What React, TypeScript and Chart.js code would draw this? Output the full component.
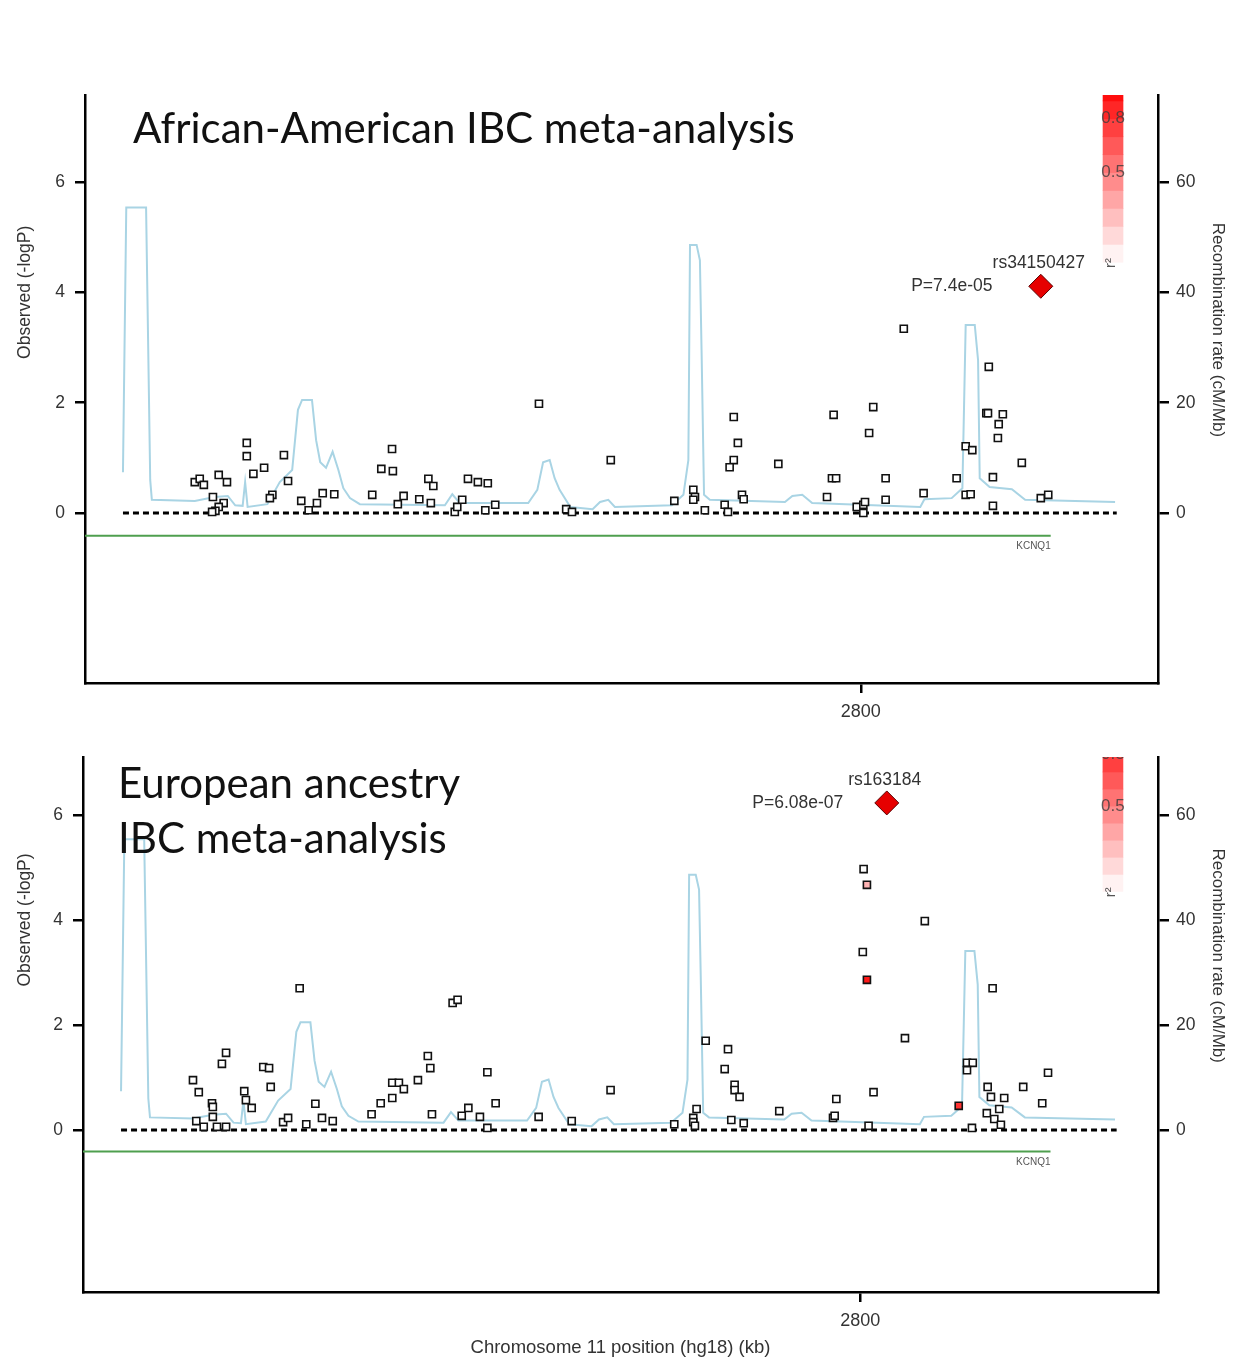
import { useEffect, useRef } from 'react';
import { Chart, registerables } from 'chart.js';
Chart.register(...registerables);

// ---------------- data ----------------
const X_MIN = 2706;
const X_MAX = 2836;
const xTickValues = [2800];
const logPTickValues = [0, 2, 4, 6];
const rateTickValues = [0, 20, 40, 60];

// recombination rate (cM/Mb), shared by both panels
const recPos = [2710.6, 2711.0, 2713.4, 2713.9, 2714.1, 2719.3, 2721.7, 2723.3, 2724.2, 2725.1, 2725.4, 2725.7, 2728.1, 2729.6, 2731.1, 2731.8, 2732.3, 2733.5, 2734.0, 2734.5, 2735.2, 2736.0, 2736.7, 2737.3, 2738.1, 2739.3, 2749.6, 2750.5, 2751.4, 2759.7, 2760.8, 2761.5, 2762.3, 2762.9, 2763.5, 2764.8, 2767.5, 2768.4, 2769.4, 2770.2, 2777.1, 2778.5, 2779.1, 2779.3, 2780.1, 2780.5, 2780.7, 2781.0, 2781.7, 2790.8, 2791.7, 2792.9, 2794.1, 2807.2, 2807.7, 2811.0, 2812.3, 2812.7, 2813.8, 2814.2, 2814.4, 2815.6, 2818.3, 2819.9, 2830.8];
const recRate = [7.4, 55.4, 55.4, 6.0, 2.4, 2.2, 2.9, 3.1, 1.4, 1.3, 5.6, 1.1, 1.6, 5.6, 7.8, 18.7, 20.5, 20.5, 13.2, 9.2, 8.2, 11.1, 7.8, 4.5, 2.7, 1.6, 1.4, 3.4, 1.8, 1.8, 4.2, 9.2, 9.6, 6.3, 4.2, 1.1, 0.7, 2.0, 2.4, 1.1, 1.4, 3.3, 9.6, 48.6, 48.6, 45.8, 29.5, 3.3, 2.4, 2.0, 3.1, 3.3, 1.8, 1.1, 2.5, 2.7, 4.5, 34.1, 34.1, 27.7, 6.3, 4.7, 4.3, 2.4, 2.0];

// African-American IBC meta-analysis SNPs
const aaPos = [2719.3, 2719.9, 2720.4, 2721.5, 2722.2, 2723.2, 2722.8, 2722.2, 2721.8, 2721.4, 2725.6, 2725.6, 2726.4, 2727.7, 2730.1, 2730.6, 2728.7, 2728.4, 2732.2, 2733.1, 2734.1, 2734.8, 2736.2, 2743.2, 2741.9, 2743.3, 2740.8, 2744.6, 2743.9, 2746.5, 2747.9, 2747.6, 2748.2, 2750.8, 2751.1, 2751.7, 2752.4, 2753.6, 2754.8, 2754.5, 2755.7, 2761.0, 2764.3, 2765.0, 2769.7, 2777.4, 2779.7, 2779.9, 2779.7, 2781.1, 2783.5, 2783.9, 2784.6, 2785.1, 2784.6, 2784.1, 2785.6, 2785.8, 2790.0, 2795.9, 2796.5, 2797.0, 2796.7, 2799.5, 2800.3, 2800.5, 2800.3, 2801.0, 2801.5, 2803.0, 2803.0, 2805.2, 2807.6, 2811.6, 2812.7, 2813.5, 2812.7, 2813.3, 2815.2, 2815.4, 2817.2, 2816.7, 2816.6, 2815.5, 2816.0, 2816.0, 2819.5, 2821.8, 2822.7];
const aaLogP = [0.56, 0.62, 0.51, 0.29, 0.69, 0.56, 0.18, 0.11, 0.04, 0.02, 1.27, 1.03, 0.71, 0.82, 1.05, 0.58, 0.33, 0.27, 0.22, 0.05, 0.18, 0.36, 0.34, 1.16, 0.80, 0.76, 0.33, 0.31, 0.16, 0.25, 0.18, 0.62, 0.49, 0.02, 0.11, 0.24, 0.62, 0.56, 0.54, 0.05, 0.15, 1.98, 0.07, 0.02, 0.96, 0.22, 0.42, 0.29, 0.24, 0.05, 0.15, 0.02, 1.74, 1.27, 0.96, 0.83, 0.33, 0.25, 0.89, 0.29, 0.63, 0.63, 1.78, 0.11, 0.15, 0.20, 0.00, 1.45, 1.92, 0.63, 0.24, 3.34, 0.36, 0.63, 1.21, 1.14, 0.33, 0.34, 1.81, 1.81, 1.79, 1.61, 1.36, 2.65, 0.65, 0.13, 0.91, 0.27, 0.33];
const aaLeadName = 'rs34150427';
const aaLeadLabel = 'P=7.4e-05';
const aaLeadPos = 2821.8;
const aaLeadLogP = 4.11;

// European ancestry IBC meta-analysis SNPs
const eaPos = [2732.2, 2750.7, 2751.3, 2723.3, 2722.8, 2719.3, 2720.0, 2721.6, 2721.7, 2721.7, 2719.7, 2720.6, 2722.2, 2723.3, 2725.5, 2725.7, 2726.4, 2727.8, 2728.5, 2728.7, 2730.2, 2730.8, 2733.0, 2734.1, 2734.9, 2736.2, 2740.9, 2742.0, 2743.4, 2743.4, 2744.2, 2744.8, 2746.5, 2747.7, 2748.0, 2748.2, 2751.8, 2752.6, 2754.0, 2754.9, 2754.9, 2755.9, 2761.1, 2765.1, 2769.8, 2777.5, 2779.8, 2780.2, 2779.8, 2780.0, 2781.3, 2784.0, 2783.6, 2784.8, 2784.8, 2785.4, 2784.4, 2785.9, 2790.2, 2800.4, 2800.8, 2807.8, 2800.3, 2800.8, 2816.0, 2805.4, 2812.9, 2813.6, 2812.9, 2801.6, 2797.1, 2796.7, 2796.9, 2801.0, 2811.9, 2815.4, 2815.8, 2817.4, 2819.7, 2822.7, 2822.0, 2816.8, 2815.3, 2816.2, 2817.0, 2813.5];
const eaLogP = [2.70, 2.42, 2.48, 1.47, 1.26, 0.95, 0.72, 0.51, 0.44, 0.25, 0.17, 0.06, 0.06, 0.06, 0.74, 0.57, 0.42, 1.20, 1.18, 0.82, 0.15, 0.23, 0.11, 0.50, 0.23, 0.17, 0.30, 0.51, 0.61, 0.90, 0.90, 0.78, 0.95, 1.41, 1.18, 0.30, 0.27, 0.42, 0.25, 0.04, 1.10, 0.51, 0.25, 0.17, 0.76, 0.11, 0.23, 0.40, 0.15, 0.08, 1.70, 1.54, 1.16, 0.86, 0.76, 0.63, 0.19, 0.13, 0.36, 4.97, 4.67, 3.98, 3.39, 2.86, 2.70, 1.75, 1.28, 1.28, 1.14, 0.72, 0.59, 0.23, 0.27, 0.08, 0.46, 0.82, 0.63, 0.61, 0.82, 1.09, 0.51, 0.40, 0.32, 0.21, 0.10, 0.04];
const eaHighlightIdx = [60, 63, 74];
const eaHighlightR2 = [0.3, 0.9, 0.8];
const eaLeadName = 'rs163184';
const eaLeadLabel = 'P=6.08e-07';
const eaLeadPos = 2803.2;
const eaLeadLogP = 6.23;

// gene track and baseline
const geneName = 'KCNQ1';
const geneStart = 2706;
const geneEnd = 2823;
const geneLogP = -0.41;
const baselineStart = 2710.6;
const baselineEnd = 2831;

// r² legend
const legendPosStart = 2829.3;
const legendPosEnd = 2831.8;
const legendLogPBottom = 4.55;
const legendLogPTop = 7.8;
const legendBands = 10;
const legendLabels = [0.8, 0.5];

const FONT = '"Liberation Sans", Arial, sans-serif';
const TITLE_FONT = 'Lato, "Open Sans", sans-serif';

type Panel = {
  top: number;
  height: number;
  areaTop: number;
  areaBottom: number;
  left: number;
  right: number;
  yMin: number;
  yMax: number;
  title: string[];
  titleX: number;
  titleY: number[];
  pos: number[];
  logP: number[];
  r2Idx: number[];
  r2Val: number[];
  leadName: string;
  leadLabel: string;
  leadPos: number;
  leadLogP: number;
  xTitle: boolean;
};

const W = 1241;

const panels: Panel[] = [
  {
    top: 0, height: 730, areaTop: 95, areaBottom: 683, left: 85, right: 1158,
    yMin: -3.081, yMax: 7.577,
    title: ['African-American IBC meta-analysis'], titleX: 48, titleY: [48],
    pos: aaPos, logP: aaLogP, r2Idx: [], r2Val: [],
    leadName: aaLeadName, leadLabel: aaLeadLabel, leadPos: aaLeadPos, leadLogP: aaLeadLogP,
    xTitle: false,
  },
  {
    top: 730, height: 634, areaTop: 27, areaBottom: 562, left: 83, right: 1158,
    yMin: -3.086, yMax: 7.105,
    title: ['European ancestry', 'IBC meta-analysis'], titleX: 35, titleY: [41, 96],
    pos: eaPos, logP: eaLogP, r2Idx: eaHighlightIdx, r2Val: eaHighlightR2,
    leadName: eaLeadName, leadLabel: eaLeadLabel, leadPos: eaLeadPos, leadLogP: eaLeadLogP,
    xTitle: true,
  },
];

function r2Fill(r2: number) {
  if (r2 <= 0) return '#ffffff';
  const a = Math.min(1, r2);
  const g = Math.round(255 * (1 - a));
  return `rgb(255,${g},${g})`;
}

function overlay(p: Panel) {
  return {
    id: 'overlay',
    afterDraw(chart: any) {
      const { ctx, chartArea: ca, scales } = chart;
      const xs = scales.x;
      const ys = scales.y;
      ctx.save();

      // r² legend
      ctx.save();
      ctx.beginPath();
      ctx.rect(0, ca.top, chart.width, chart.height - ca.top);
      ctx.clip();
      const lx0 = xs.getPixelForValue(legendPosStart);
      const lx1 = xs.getPixelForValue(legendPosEnd);
      const yAt = (r: number) => ys.getPixelForValue(legendLogPBottom + (legendLogPTop - legendLogPBottom) * r);
      for (let i = 0; i < legendBands; i++) {
        const r0 = i / legendBands;
        const r1 = (i + 1) / legendBands;
        const yb = yAt(r0);
        const yt = yAt(r1);
        ctx.fillStyle = r2Fill((r0 + r1) / 2);
        ctx.fillRect(lx0, yt, lx1 - lx0, yb - yt + 0.6);
      }
      ctx.fillStyle = 'rgba(60,60,60,0.8)';
      ctx.font = `17px ${FONT}`;
      ctx.textAlign = 'center';
      ctx.textBaseline = 'middle';
      for (const v of legendLabels) ctx.fillText(String(v), (lx0 + lx1) / 2, yAt(v));
      ctx.restore();
      ctx.save();
      ctx.translate((lx0 + lx1) / 2 - 2, yAt(0) + 1);
      ctx.rotate(-Math.PI / 2);
      ctx.fillStyle = '#555';
      ctx.font = `15px ${FONT}`;
      ctx.textAlign = 'center';
      ctx.textBaseline = 'middle';
      ctx.fillText('r²', 0, 0);
      ctx.restore();

      // panel title
      ctx.fillStyle = '#111';
      ctx.font = `42px ${TITLE_FONT}`;
      ctx.textAlign = 'left';
      ctx.textBaseline = 'alphabetic';
      p.title.forEach((t, i) => ctx.fillText(t, ca.left + p.titleX, ca.top + p.titleY[i]));

      // lead SNP labels
      const lx = xs.getPixelForValue(p.leadPos);
      const ly = ys.getPixelForValue(p.leadLogP);
      ctx.fillStyle = '#333';
      ctx.font = `17.5px ${FONT}`;
      ctx.textAlign = 'center';
      ctx.textBaseline = 'middle';
      ctx.fillText(p.leadName, lx - 2, ly - 23);
      ctx.fillText(p.leadLabel, lx - 89, ly);

      // gene label
      ctx.font = `10px ${FONT}`;
      ctx.fillStyle = '#555';
      ctx.textAlign = 'right';
      ctx.fillText(geneName, xs.getPixelForValue(geneEnd), ys.getPixelForValue(geneLogP) + 11);

      // axis titles
      ctx.fillStyle = '#333';
      ctx.font = `17.5px ${FONT}`;
      ctx.save();
      ctx.translate(25, ys.getPixelForValue(4.0));
      ctx.rotate(-Math.PI / 2);
      ctx.textAlign = 'center';
      ctx.fillText('Observed (-logP)', 0, 0);
      ctx.restore();
      ctx.save();
      ctx.font = `17px ${FONT}`;
      ctx.translate(1218, ys.getPixelForValue(3.32));
      ctx.rotate(Math.PI / 2);
      ctx.textAlign = 'center';
      ctx.fillText('Recombination rate (cM/Mb)', 0, 0);
      ctx.restore();
      if (p.xTitle) {
        ctx.font = `18.5px ${FONT}`;
        ctx.textAlign = 'center';
        ctx.fillText('Chromosome 11 position (hg18) (kb)', (ca.left + ca.right) / 2, ca.bottom + 56);
      }
      ctx.restore();
    },
  };
}

function makeChart(canvas: HTMLCanvasElement, p: Panel) {
  const snpData = p.pos.map((x, i) => ({ x, y: p.logP[i] })).slice(0, Math.min(p.pos.length, p.logP.length));
  const snpFill = snpData.map((_, i) => {
    const k = p.r2Idx.indexOf(i);
    return k >= 0 ? r2Fill(p.r2Val[k]) : '#ffffff';
  });
  const recData = recPos.map((x, i) => ({ x, y: recRate[i] }));
  const tickFont = { family: FONT, size: 17.5 };
  const axisCommon = {
    border: { display: true, color: '#000', width: 2.5 },
  };
  const plainLabel = (v: any) => String(v);
  return new Chart(canvas, {
    type: 'scatter',
    data: {
      datasets: [
        {
          label: 'lead',
          data: [{ x: p.leadPos, y: p.leadLogP }],
          pointStyle: 'rectRot',
          pointRadius: 12,
          backgroundColor: '#e60000',
          borderColor: '#5a0000',
          borderWidth: 1,
          yAxisID: 'y',
          order: 0,
        },
        {
          label: 'snps',
          data: snpData,
          pointStyle: 'rect',
          pointRadius: 5,
          backgroundColor: snpFill,
          borderColor: '#111',
          borderWidth: 1.6,
          yAxisID: 'y',
          order: 1,
        },
        {
          label: 'baseline',
          data: [{ x: baselineStart, y: 0 }, { x: baselineEnd, y: 0 }],
          showLine: true,
          pointRadius: 0,
          borderColor: '#000',
          borderWidth: 3,
          borderDash: [6, 4],
          yAxisID: 'y',
          order: 2,
        },
        {
          label: 'gene',
          data: [{ x: geneStart, y: geneLogP }, { x: geneEnd, y: geneLogP }],
          showLine: true,
          pointRadius: 0,
          borderColor: '#4f9f4f',
          borderWidth: 2,
          yAxisID: 'y',
          order: 3,
        },
        {
          label: 'recomb',
          data: recData,
          showLine: true,
          pointRadius: 0,
          borderColor: '#a9d4e4',
          borderWidth: 2,
          yAxisID: 'y2',
          order: 4,
        },
      ],
    },
    options: {
      animation: false,
      responsive: false,
      maintainAspectRatio: false,
      devicePixelRatio: 1,
      layout: { padding: { top: p.areaTop, left: 0, right: 0, bottom: 0 } },
      plugins: { legend: { display: false }, tooltip: { enabled: false }, title: { display: false } },
      scales: {
        x: {
          type: 'linear',
          position: 'bottom',
          min: X_MIN,
          max: X_MAX,
          afterBuildTicks: (s: any) => { s.ticks = xTickValues.map((v) => ({ value: v })); },
          afterFit: (s: any) => { s.height = p.height - p.areaBottom; },
          grid: { drawOnChartArea: false, drawTicks: true, tickLength: 10, tickWidth: 2.5, tickColor: '#000', color: '#000', lineWidth: 2.5 },
          ticks: { color: '#333', font: { family: FONT, size: 18 }, padding: 8, maxRotation: 0, callback: plainLabel },
          ...axisCommon,
        },
        y: {
          type: 'linear',
          position: 'left',
          min: p.yMin,
          max: p.yMax,
          afterBuildTicks: (s: any) => { s.ticks = logPTickValues.map((v) => ({ value: v })); },
          afterFit: (s: any) => { s.width = p.left; },
          grid: { drawOnChartArea: false, drawTicks: true, tickLength: 10, tickWidth: 2.5, tickColor: '#000', color: '#000', lineWidth: 2.5 },
          ticks: { color: '#333', font: tickFont, padding: 10, callback: plainLabel },
          ...axisCommon,
        },
        y2: {
          type: 'linear',
          position: 'right',
          min: p.yMin * 10,
          max: p.yMax * 10,
          afterBuildTicks: (s: any) => { s.ticks = rateTickValues.map((v) => ({ value: v })); },
          afterFit: (s: any) => { s.width = W - p.right; },
          grid: { drawOnChartArea: false, drawTicks: true, tickLength: 11, tickWidth: 2.5, tickColor: '#000', color: '#000', lineWidth: 2.5 },
          ticks: { color: '#333', font: tickFont, padding: 7, callback: plainLabel },
          ...axisCommon,
        },
      },
    } as any,
    plugins: [overlay(p)],
  } as any);
}

export default function App() {
  const topRef = useRef<HTMLCanvasElement>(null);
  const botRef = useRef<HTMLCanvasElement>(null);
  useEffect(() => {
    const c1 = makeChart(topRef.current!, panels[0]);
    const c2 = makeChart(botRef.current!, panels[1]);
    return () => {
      c1.destroy();
      c2.destroy();
    };
  }, []);
  return (
    <div style={{ position: 'absolute', left: 0, top: 0, width: W, height: 1364, background: '#fff' }}>
      <canvas ref={topRef} width={W} height={panels[0].height} style={{ position: 'absolute', left: 0, top: panels[0].top }} />
      <canvas ref={botRef} width={W} height={panels[1].height} style={{ position: 'absolute', left: 0, top: panels[1].top }} />
    </div>
  );
}
